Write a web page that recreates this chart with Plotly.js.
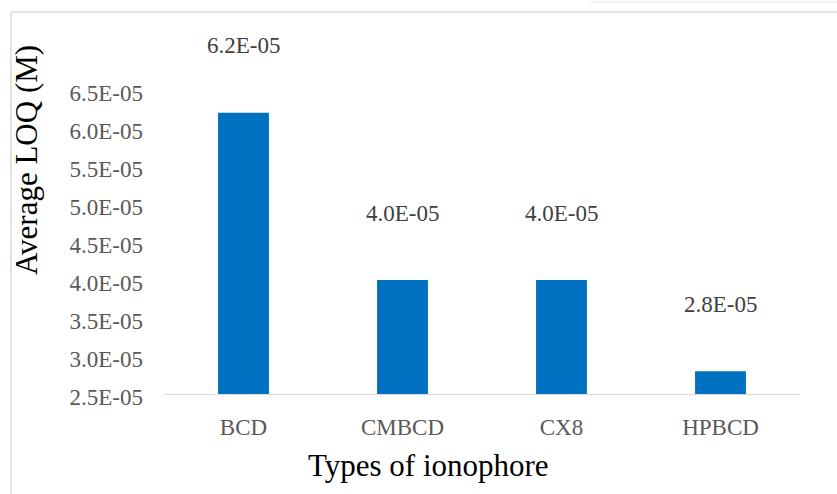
<!DOCTYPE html>
<html>
<head>
<meta charset="utf-8">
<script src="https://cdn.plot.ly/plotly-3.0.1.min.js"></script>
<style>
  html, body { margin: 0; padding: 0; background: #ffffff; }
  #chart { width: 837px; height: 494px; }
</style>
</head>
<body>
<div id="chart"></div>
<script>
// Average limit of quantification per ionophore
const ionophores = ["BCD", "CMBCD", "CX8", "HPBCD"];
const avgLOQ = [6.2e-5, 4.0e-5, 4.0e-5, 2.8e-5];
const loqLabels = ["6.2E-05", "4.0E-05", "4.0E-05", "2.8E-05"];
const yTickValues = [2.5e-5, 3.0e-5, 3.5e-5, 4.0e-5, 4.5e-5, 5.0e-5, 5.5e-5, 6.0e-5, 6.5e-5];
const yTickLabels = ["2.5E-05", "3.0E-05", "3.5E-05", "4.0E-05", "4.5E-05", "5.0E-05", "5.5E-05", "6.0E-05", "6.5E-05"];

const serif = "Liberation Serif";

const trace = {
  type: "bar",
  x: ionophores,
  y: avgLOQ,
  base: 0,
  marker: { color: "#0070C0" },
  hoverinfo: "skip"
};

// Value labels floating above each bar
const valueNotes = ionophores.map((c, i) => ({
  x: c, y: avgLOQ[i], xref: "x", yref: "y",
  text: loqLabels[i], showarrow: false,
  yanchor: "middle", yshift: 67,
  font: { family: serif, size: 23, color: "#404040" }
}));

const layout = {
  width: 837, height: 494,
  margin: { l: 164, r: 37, t: 90, b: 100 },
  paper_bgcolor: "#ffffff", plot_bgcolor: "#ffffff",
  showlegend: false,
  bargap: 0.68,
  font: { family: serif, size: 23, color: "#595959" },
  xaxis: {
    type: "category",
    showgrid: false, zeroline: false,
    showline: true, linecolor: "#d9d9d9", linewidth: 1.3,
    ticks: "", ticklabelstandoff: 12,
    tickfont: { family: serif, size: 23, color: "#595959" }
  },
  yaxis: {
    range: [2.5e-5, 6.5e-5],
    tickmode: "array", tickvals: yTickValues, ticktext: yTickLabels,
    showgrid: false, zeroline: false, showline: false,
    ticks: "", ticklabelstandoff: 20, ticklabelshift: 3,
    tickfont: { family: serif, size: 23, color: "#595959" }
  },
  annotations: valueNotes.concat([
    {
      text: "Average LOQ (M)", textangle: -90, showarrow: false,
      xref: "paper", yref: "paper", x: -0.2170, y: 0.7697,
      xanchor: "center", yanchor: "middle",
      font: { family: serif, size: 31, color: "#000000" }
    },
    {
      text: "Types of ionophore", showarrow: false,
      xref: "paper", yref: "paper", x: 0.4159, y: -0.2336,
      xanchor: "center", yanchor: "middle",
      font: { family: serif, size: 31, color: "#000000" }
    }
  ]),
  shapes: [
    // chart frame edges
    { type: "line", xref: "paper", yref: "paper", x0: -0.2406, x1: -0.2406, y0: 1.2566, y1: -0.33,
      line: { color: "#d9d9d9", width: 1.5 } },
    { type: "line", xref: "paper", yref: "paper", x0: -0.2406, x1: 1.06, y0: 1.2566, y1: 1.2566,
      line: { color: "#d9d9d9", width: 1.5 } },
    { type: "line", xref: "paper", yref: "paper", x0: 0.6698, x1: 1.06, y0: 1.2895, y1: 1.2895,
      line: { color: "#e6e6e6", width: 1 } }
  ]
};

Plotly.newPlot("chart", [trace], layout, { displayModeBar: false, staticPlot: true });
</script>
</body>
</html>
